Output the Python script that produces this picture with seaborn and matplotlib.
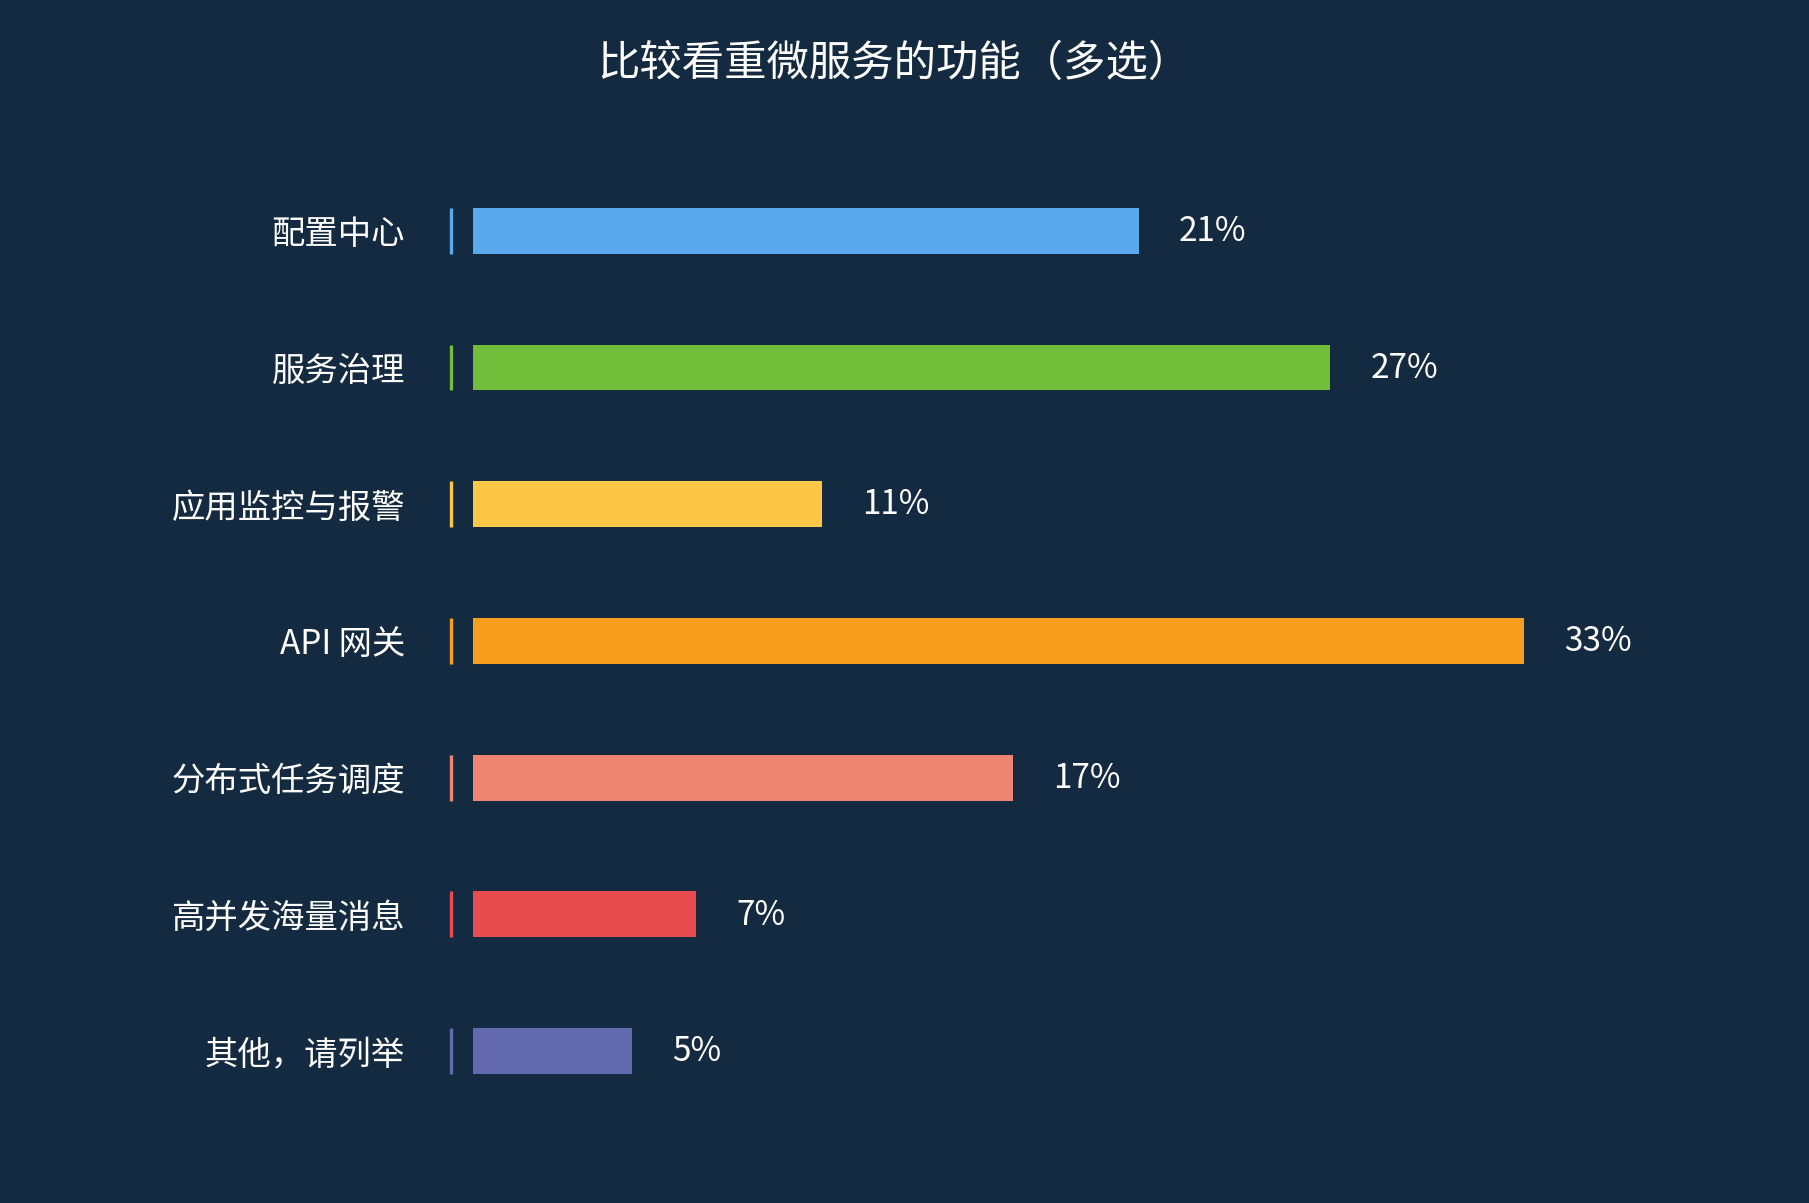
import matplotlib
matplotlib.use("Agg")
import matplotlib.pyplot as plt
import seaborn as sns
import pandas as pd

categories = ["配置中心", "服务治理", "应用监控与报警", "API 网关",
              "分布式任务调度", "高并发海量消息", "其他，请列举"]
values = [20.9, 26.9, 10.95, 33, 16.95, 7, 5]
labels = ["21%", "27%", "11%", "33%", "17%", "7%", "5%"]
colors = ["#5aa9ec", "#72be3a", "#fcc646", "#f79e1e", "#ee8472", "#e84c4f", "#6269ae"]
title = "比较看重微服务的功能（多选）"

bg = "#142a40"

sns.set_theme(style="white")
plt.rcParams["font.family"] = ["Noto Sans CJK SC", "DejaVu Sans"]

df = pd.DataFrame({"cat": categories, "val": values})

fig = plt.figure(figsize=(18.09, 12.03), dpi=100, facecolor=bg)
ax = fig.add_axes([0.2615, 0.0695, 0.7043, 0.7955])
ax.set_facecolor(bg)

sns.barplot(data=df, x="val", y="cat", hue="cat", palette=colors,
            legend=False, orient="h", width=0.336, saturation=1,
            linewidth=0, ax=ax)

ax.set_xlim(0, 40)
ax.set_ylim(6.5, -0.5)
ax.set_xlabel("")
ax.set_ylabel("")
ax.set_xticks([])
for s in ax.spines.values():
    s.set_visible(False)
ax.tick_params(axis="y", length=0, pad=49, labelsize=24, labelcolor="white")

# small coloured marker to the left of each bar
for i, c in enumerate(colors):
    ax.plot([-0.7, -0.7], [i - 0.168, i + 0.168], color=c, lw=2.4,
            solid_capstyle="butt", clip_on=False)

# value labels
for i, (v, lab) in enumerate(zip(values, labels)):
    ax.annotate(lab, xy=(v, i), xytext=(29, -0.5), textcoords="offset points",
                ha="left", va="center", fontsize=24, color="white")

fig.text(0.494, 0.947, title, ha="center", va="center", fontsize=30.5, color="white")

fig.savefig("out.png", dpi=100, facecolor=bg)
